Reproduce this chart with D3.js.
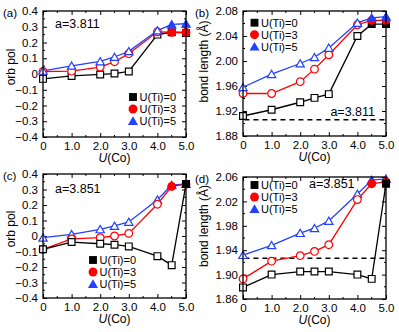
<!DOCTYPE html>
<html>
<head>
<meta charset="utf-8">
<script src="https://cdn.jsdelivr.net/npm/d3@7"></script>
<style>
  body { margin: 0; background: #fff; }
  svg { font-family: "Liberation Sans", Arial, sans-serif; }
</style>
</head>
<body>
<svg id="chart" width="399" height="332"></svg>
<script>
// U(Co) values, shared by all panels
const uCo = [0, 1, 2, 2.5, 3, 4, 4.5, 5];
const seriesNames = ["U(Ti)=0", "U(Ti)=3", "U(Ti)=5"];

// (a) orb pol, a=3.811
const orbPolA0 = [-0.031, -0.012, -0.003, 0.003, 0.016, 0.250, 0.265, 0.261];
const orbPolA3 = [0.016, 0.018, 0.044, 0.078, 0.129, 0.268, 0.265, 0.265];
const orbPolA5 = [0.020, 0.052, 0.080, 0.108, 0.144, 0.276, 0.315, 0.319];

// (b) bond length, a=3.811
const bondB0 = [1.912, 1.922, 1.934, 1.941, 1.947, 2.040, 2.059, 2.059];
const bondB3 = [1.948, 1.948, 1.967, 1.987, 2.010, 2.058, 2.065, 2.065];
const bondB5 = [1.958, 1.979, 1.996, 2.006, 2.021, 2.061, 2.069, 2.071];

// (c) orb pol, a=3.851
const orbPolC0 = [-0.086, -0.039, -0.050, -0.056, -0.067, -0.130, -0.188, 0.335];
const orbPolC3 = [-0.086, -0.019, -0.011, 0.000, 0.017, 0.205, 0.320, 0.335];
const orbPolC5 = [-0.011, 0.011, 0.043, 0.065, 0.091, 0.234, 0.329, 0.335];

// (d) bond length, a=3.851
const bondD0 = [1.879, 1.900, 1.905, 1.905, 1.905, 1.900, 1.893, 2.049];
const bondD3 = [1.893, 1.922, 1.931, 1.938, 1.949, 2.023, 2.049, 2.052];
const bondD5 = [1.932, 1.948, 1.968, 1.976, 1.988, 2.032, 2.055, 2.057];

// which U(Co) points are drawn with filled markers
const filled3811 = [[4.5, 5], [4.5, 5], [4.5, 5]];
const filled3851 = [[5], [4.5, 5], [4.5, 5]];

// bulk reference bond lengths (dashed lines)
const refBond3811 = 1.906;
const refBond3851 = 1.927;

const xTicks = [0, 1, 2, 3, 4, 5];
const xTickLabels = ["0", "1.0", "2.0", "3.0", "4.0", "5.0"];
const orbTicks = [-0.4, -0.3, -0.2, -0.1, 0, 0.1, 0.2, 0.3, 0.4];
const orbTickLabels = ["\u22120.4", "\u22120.3", "\u22120.2", "\u22120.1", "0", "0.1", "0.2", "0.3", "0.4"];
const bondTicksB = [1.88, 1.92, 1.96, 2.00, 2.04, 2.08];
const bondTicksD = [1.86, 1.90, 1.94, 1.98, 2.02, 2.06];

const colors = ["#000000", "#ff0000", "#2140ff"];
const symbols = [d3.symbolSquare, d3.symbolCircle, d3.symbolTriangle];
const symbolSizes = [46, 46, 30];
const legendSizes = [62, 62, 44];

const svg = d3.select("#chart");

const panels = [
    {label: "(a)", labelX: 3, left: 43, right: 186, top: 11, bottom: 137,
     series: [orbPolA0, orbPolA3, orbPolA5], filled: filled3811, order: [0, 1, 2],
     yDomain: [-0.4, 0.4], yTicks: orbTicks, yLabels: orbTickLabels, yMinor: 0.05,
     yTitle: "orb pol", titleX: 14.5, aText: "a=3.811", aX: 55, aY: 28, aAnchor: "start",
     legendX: 133, legendY: 97},
    {label: "(b)", labelX: 195, left: 243, right: 386, top: 11, bottom: 136,
     series: [bondB0, bondB3, bondB5], filled: filled3811, order: [0, 1, 2],
     yDomain: [1.88, 2.08], yTicks: bondTicksB, yLabels: bondTicksB.map(d => d.toFixed(2)), yMinor: 0.02,
     yTitle: "bond length (\u00c5)", titleX: 207.5, aText: "a=3.811", aX: 375, aY: 116, aAnchor: "end",
     legendX: 254.5, legendY: 22.7, ref: refBond3811},
    {label: "(c)", labelX: 3, left: 43, right: 186, top: 174, bottom: 298,
     series: [orbPolC0, orbPolC3, orbPolC5], filled: filled3851, order: [2, 1, 0],
     yDomain: [-0.4, 0.4], yTicks: orbTicks, yLabels: orbTickLabels, yMinor: 0.05,
     yTitle: "orb pol", titleX: 14.5, aText: "a=3.851", aX: 55, aY: 193, aAnchor: "start",
     legendX: 93, legendY: 260},
    {label: "(d)", labelX: 195, left: 243, right: 386, top: 177, bottom: 299,
     series: [bondD0, bondD3, bondD5], filled: filled3851, order: [2, 1, 0],
     yDomain: [1.86, 2.06], yTicks: bondTicksD, yLabels: bondTicksD.map(d => d.toFixed(2)), yMinor: 0.02,
     yTitle: "bond length (\u00c5)", titleX: 207.5, aText: "a=3.851", aX: 309, aY: 188, aAnchor: "start",
     legendX: 254.5, legendY: 185, ref: refBond3851}
];

function drawPanel(p) {
    const x = d3.scaleLinear().domain([0, 5]).range([p.left, p.right]);
    const y = d3.scaleLinear().domain(p.yDomain).range([p.bottom, p.top]);
    const g = svg.append("g");

    const xMinor = d3.range(0.5, 5, 1);
    const yMinor = d3.range(p.yDomain[0] + p.yMinor, p.yDomain[1], p.yMinor * 2);

    // inward ticks on all four sides
    const axes = [
        [d3.axisBottom(x).tickValues(xTicks).tickFormat((d, i) => xTickLabels[i]), p.bottom, 0],
        [d3.axisTop(x).tickValues(xTicks).tickFormat(""), p.top, 0],
        [d3.axisLeft(y).tickValues(p.yTicks).tickFormat((d, i) => p.yLabels[i]), p.left, 1],
        [d3.axisRight(y).tickValues(p.yTicks).tickFormat(""), p.right, 1]
    ];
    axes.forEach(([ax, pos, vertical]) => {
        const a = g.append("g")
            .attr("transform", vertical ? `translate(${pos},0)` : `translate(0,${pos})`)
            .call(ax.tickSizeInner(-4).tickSizeOuter(0).tickPadding(5));
        a.select(".domain").remove();
        a.selectAll("line").attr("stroke", "#000").attr("stroke-width", 1);
        a.selectAll("text").attr("font-size", 11.5).attr("fill", "#000")
            .attr("font-family", "Liberation Sans, Arial, sans-serif");
    });
    // minor ticks
    [[p.bottom, -2], [p.top, 2]].forEach(([py, d]) => {
        g.selectAll(null).data(xMinor).enter().append("line")
            .attr("x1", v => x(v)).attr("x2", v => x(v))
            .attr("y1", py).attr("y2", py + d)
            .attr("stroke", "#000");
    });
    [[p.left, 2], [p.right, -2]].forEach(([px, d]) => {
        g.selectAll(null).data(yMinor).enter().append("line")
            .attr("y1", v => y(v)).attr("y2", v => y(v))
            .attr("x1", px).attr("x2", px + d)
            .attr("stroke", "#000");
    });

    // reference dashed line
    if (p.ref !== undefined) {
        g.append("line")
            .attr("x1", x(0.05)).attr("x2", x(5))
            .attr("y1", y(p.ref)).attr("y2", y(p.ref))
            .attr("stroke", "#000").attr("stroke-width", 1.5)
            .attr("stroke-dasharray", "5,4");
    }

    const line = d3.line().x((d, i) => x(uCo[i])).y(d => y(d));

    p.order.forEach(si => {
        g.append("path")
            .datum(p.series[si])
            .attr("d", line)
            .attr("fill", "none")
            .attr("stroke", colors[si])
            .attr("stroke-width", 1.3);
    });
    p.order.forEach(si => {
        const sym = d3.symbol().type(symbols[si]).size(symbolSizes[si]);
        g.selectAll(null)
            .data(p.series[si])
            .enter().append("path")
            .attr("d", sym)
            .attr("transform", (d, i) => `translate(${x(uCo[i])},${y(d) + (si === 2 ? 1 : 0)})`)
            .attr("fill", (d, i) => p.filled[si].includes(uCo[i]) ? colors[si] : "#fff")
            .attr("stroke", colors[si])
            .attr("stroke-width", 1.2);
    });

    // frame
    g.append("rect")
        .attr("x", p.left).attr("y", p.top)
        .attr("width", p.right - p.left).attr("height", p.bottom - p.top)
        .attr("fill", "none").attr("stroke", "#000").attr("stroke-width", 1.3);

    // legend
    seriesNames.forEach((name, si) => {
        const ly = p.legendY + si * 12;
        g.append("path")
            .attr("d", d3.symbol().type(symbols[si]).size(legendSizes[si]))
            .attr("transform", `translate(${p.legendX},${ly + (si === 2 ? 1 : 0)})`)
            .attr("fill", colors[si]);
        g.append("text")
            .attr("x", p.legendX + 6.5).attr("y", ly + 4)
            .attr("font-size", 11).text(name);
    });

    g.append("text")
        .attr("x", p.aX).attr("y", p.aY)
        .attr("text-anchor", p.aAnchor)
        .attr("font-size", 12.5).text(p.aText);

    // panel label
    g.append("text")
        .attr("x", p.labelX).attr("y", p.top + 6)
        .attr("font-size", 11.5).text(p.label);

    // axis titles
    const xt = g.append("text")
        .attr("x", (p.left + p.right) / 2).attr("y", p.bottom + 25)
        .attr("text-anchor", "middle").attr("font-size", 12);
    xt.append("tspan").attr("font-style", "italic").text("U");
    xt.append("tspan").text("(Co)");

    const cy = p.yTitle === "orb pol" ? (p.top + p.bottom) / 2 - 7 : (p.top + p.bottom) / 2 - 12;
    g.append("text")
        .attr("transform", `translate(${p.titleX},${cy}) rotate(-90)`)
        .attr("text-anchor", "middle").attr("font-size", 12).text(p.yTitle);
}

panels.forEach(drawPanel);
</script>
</body>
</html>
